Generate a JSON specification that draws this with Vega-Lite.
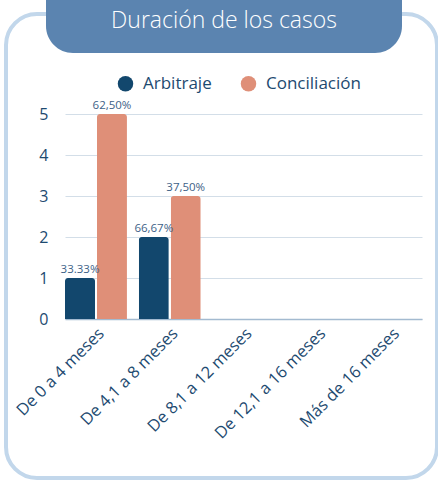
{
  "$schema": "https://vega.github.io/schema/vega-lite/v6.json",
  "background": "white",
  "autosize": "none",
  "padding": {"left": 6, "top": 14, "right": 1, "bottom": 2},
  "width": 431,
  "height": 464,
  "view": {"stroke": "#c2d7eb", "strokeWidth": 4, "cornerRadius": 31, "fill": "white"},
  "title": {
    "text": "Duración de los casos",
    "orient": "none",
    "anchor": "middle",
    "frame": "group",
    "offset": 0,
    "dy": 14,
    "dx": 218,
    "baseline": "alphabetic",
    "fontSize": 23,
    "fontWeight": 300,
    "color": "white"
  },
  "layer": [
    {
      "data": {
        "values": [
          {"duracion": "De 0 a 4 meses", "tipo": "Arbitraje", "casos": 1, "pct": "33.33%"},
          {"duracion": "De 0 a 4 meses", "tipo": "Conciliación", "casos": 5, "pct": "62,50%"},
          {"duracion": "De 4,1 a 8 meses", "tipo": "Arbitraje", "casos": 2, "pct": "66,67%"},
          {"duracion": "De 4,1 a 8 meses", "tipo": "Conciliación", "casos": 3, "pct": "37,50%"}
        ]
      },
      "encoding": {
        "x": {
          "field": "duracion",
          "type": "nominal",
          "title": null,
          "scale": {
            "domain": ["De 0 a 4 meses", "De 4,1 a 8 meses", "De 8,1 a 12 meses", "De 12,1 a 16 meses", "Más de 16 meses"],
            "range": [59, 416],
            "paddingInner": 0.16,
            "paddingOuter": 0
          },
          "axis": {
            "offset": -159,
            "labelAngle": -45,
            "labelFontSize": 16.5,
            "labelColor": "#1d4a70",
            "labelPadding": 6,
            "ticks": false,
            "domainColor": "#a3bad0",
            "domainWidth": 1.5,
            "grid": false
          }
        },
        "xOffset": {
          "field": "tipo",
          "type": "nominal",
          "sort": ["Arbitraje", "Conciliación"],
          "scale": {"paddingInner": 0.06}
        },
        "y": {
          "field": "casos",
          "type": "quantitative",
          "title": null,
          "scale": {"domain": [0, 5], "range": [305, 100], "nice": false},
          "axis": {
            "offset": -59,
            "values": [0, 1, 2, 3, 4, 5],
            "labelFontSize": 16,
            "labelColor": "#1d4a70",
            "labelPadding": 17,
            "ticks": false,
            "domain": false,
            "gridColor": "#d3dee8",
            "gridWidth": 1
          }
        }
      },
      "layer": [
        {
          "mark": {"type": "bar", "cornerRadiusTopLeft": 3, "cornerRadiusTopRight": 3},
          "encoding": {
            "color": {
              "field": "tipo",
              "type": "nominal",
              "scale": {"domain": ["Arbitraje", "Conciliación"], "range": ["#12476d", "#df8f78"]},
              "legend": {
                "orient": "none",
                "legendX": 111,
                "legendY": 61,
                "direction": "horizontal",
                "title": null,
                "symbolType": "circle",
                "symbolSize": 240,
                "symbolStrokeWidth": 0,
                "labelFontSize": 17,
                "labelColor": "#1d4a70",
                "labelOffset": 9,
                "columnPadding": 28
              }
            }
          }
        },
        {
          "mark": {"type": "text", "baseline": "bottom", "dy": -3, "fontSize": 11.5, "color": "#3d6187"},
          "encoding": {"text": {"field": "pct"}}
        }
      ]
    },
    {
      "data": {"values": [{"marco": "Duración de los casos"}]},
      "mark": {"type": "point", "opacity": 0},
      "encoding": {
        "shape": {
          "field": "marco",
          "type": "nominal",
          "legend": {
            "orient": "none",
            "legendX": 40,
            "legendY": -317,
            "title": null,
            "symbolSize": 126736,
            "symbolOpacity": 0,
            "symbolStrokeWidth": 0,
            "labelExpr": "''",
            "labelOffset": 0,
            "padding": 0,
            "fillColor": "#5b84b0",
            "strokeColor": null,
            "cornerRadius": 27
          }
        }
      }
    }
  ],
  "config": {
    "font": "Open Sans"
  }
}
